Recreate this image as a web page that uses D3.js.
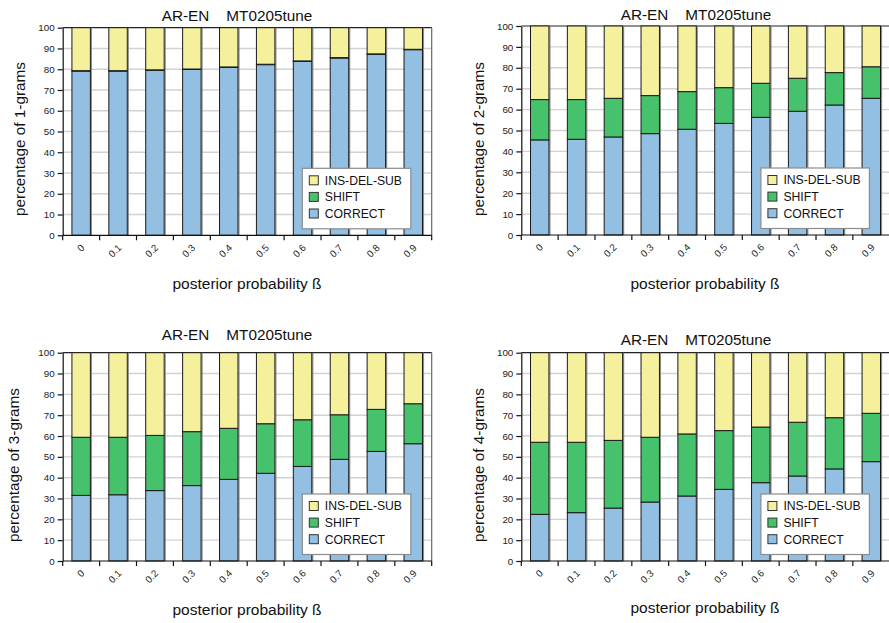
<!DOCTYPE html>
<html>
<head>
<meta charset="utf-8">
<script src="https://cdn.jsdelivr.net/npm/d3@7"></script>
<style>
  html, body { margin: 0; padding: 0; background: #fff; }
  svg { display: block; font-family: "Liberation Sans", Arial, sans-serif; }
</style>
</head>
<body>
<svg id="chart" width="889" height="623"></svg>
<script>
// Posterior probability thresholds (x categories)
const categories = ["0", "0.1", "0.2", "0.3", "0.4", "0.5", "0.6", "0.7", "0.8", "0.9"];
const yTicks = [0, 10, 20, 30, 40, 50, 60, 70, 80, 90, 100];
const seriesNames = ["CORRECT", "SHIFT", "INS-DEL-SUB"];
const legendOrder = ["INS-DEL-SUB", "SHIFT", "CORRECT"];
const titleText = "AR-EN    MT0205tune";
const xAxisTitle = "posterior probability ß";
const ngramLabels = ["percentage of 1-grams", "percentage of 2-grams", "percentage of 3-grams", "percentage of 4-grams"];

// 1-grams
const correct1 = [79.1, 79.1, 79.5, 79.9, 80.9, 82.2, 83.8, 85.4, 87.2, 89.4];
const shift1   = [0.2, 0.2, 0.2, 0.2, 0.2, 0.2, 0.2, 0.2, 0.2, 0.2];
const insDel1  = [20.7, 20.7, 20.3, 19.9, 18.9, 17.6, 16.0, 14.4, 12.6, 10.4];
// 2-grams
const correct2 = [45.5, 45.8, 46.9, 48.5, 50.6, 53.4, 56.3, 59.2, 62.2, 65.4];
const shift2   = [19.3, 19.0, 18.5, 18.2, 18.0, 17.1, 16.3, 15.8, 15.5, 15.1];
const insDel2  = [35.2, 35.2, 34.6, 33.3, 31.4, 29.5, 27.4, 25.0, 22.3, 19.5];
// 3-grams
const correct3 = [31.5, 31.8, 33.8, 36.2, 39.2, 42.1, 45.4, 48.8, 52.6, 56.3];
const shift3   = [27.9, 27.6, 26.5, 25.9, 24.5, 23.8, 22.4, 21.4, 20.2, 19.2];
const insDel3  = [40.6, 40.6, 39.7, 37.9, 36.3, 34.1, 32.2, 29.8, 27.2, 24.5];
// 4-grams
const correct4 = [22.4, 23.2, 25.4, 28.3, 31.2, 34.4, 37.6, 40.8, 44.2, 47.7];
const shift4   = [34.6, 33.8, 32.5, 31.1, 29.8, 28.2, 26.7, 25.8, 24.6, 23.2];
const insDel4  = [43.0, 43.0, 42.1, 40.6, 39.0, 37.4, 35.7, 33.4, 31.2, 29.1];

const colors = { "CORRECT": "#93bfe3", "SHIFT": "#47c26c", "INS-DEL-SUB": "#f4f09b" };

const panelData = [
  [correct1, shift1, insDel1],
  [correct2, shift2, insDel2],
  [correct3, shift3, insDel3],
  [correct4, shift4, insDel4]
];

// Panel placement in the 2x2 grid
const layouts = [
  { left: 62.7, right: 431.7, top: 27.7, bottom: 235.3, titleX: 237, titleY: 21, ylabX: 25, ylabY: 139, xlabX: 247, xlabY: 289 },
  { left: 521.3, right: 889.7, top: 26, bottom: 235, titleX: 696, titleY: 20, ylabX: 484, ylabY: 139, xlabX: 705, xlabY: 289 },
  { left: 62.7, right: 431.7, top: 352.7, bottom: 561, titleX: 237, titleY: 340, ylabX: 19, ylabY: 465, xlabX: 247, xlabY: 615 },
  { left: 521.3, right: 889.7, top: 352.7, bottom: 561, titleX: 696, titleY: 345, ylabX: 484, ylabY: 465, xlabX: 705, xlabY: 613 }
];

const svg = d3.select("#chart");

panelData.forEach((series, pi) => {
  const L = layouts[pi];
  const g = svg.append("g");

  const rows = categories.map((c, i) => ({
    cat: c,
    "CORRECT": series[0][i],
    "SHIFT": series[1][i],
    "INS-DEL-SUB": series[2][i]
  }));
  const stacked = d3.stack().keys(seriesNames)(rows);

  const x = d3.scaleBand().domain(categories).range([L.left, L.right])
    .paddingInner(0.5).paddingOuter(0.25);
  const xEdges = d3.scaleLinear().domain([0, categories.length]).range([L.left, L.right]);
  const y = d3.scaleLinear().domain([0, 100]).range([L.bottom, L.top]);

  // horizontal gridlines
  g.append("g").selectAll("line")
    .data(yTicks.filter(t => t > 0 && t < 100))
    .join("line")
    .attr("x1", L.left).attr("x2", L.right)
    .attr("y1", d => y(d)).attr("y2", d => y(d))
    .attr("stroke", "#d2d2d2").attr("stroke-width", 1.4);

  // plot frame: top and right
  g.append("line").attr("x1", L.left).attr("x2", L.right)
    .attr("y1", y(100)).attr("y2", y(100))
    .attr("stroke", "#222").attr("stroke-width", 1.2);
  g.append("line").attr("x1", L.right).attr("x2", L.right)
    .attr("y1", y(100)).attr("y2", y(0))
    .attr("stroke", "#666").attr("stroke-width", 1.2);

  // stacked bars
  const layer = g.append("g").selectAll("g")
    .data(stacked)
    .join("g")
    .attr("fill", d => colors[d.key]);

  // soft shadow on the right edge of each segment
  layer.selectAll("line.shadow")
    .data(d => d)
    .join("line")
    .attr("class", "shadow")
    .attr("x1", d => x(d.data.cat) + x.bandwidth() + 1)
    .attr("x2", d => x(d.data.cat) + x.bandwidth() + 1)
    .attr("y1", d => y(d[1]))
    .attr("y2", d => y(d[0]))
    .attr("stroke", "#8a8a8a").attr("stroke-width", 1.2);

  layer.selectAll("rect")
    .data(d => d)
    .join("rect")
    .attr("x", d => x(d.data.cat))
    .attr("width", x.bandwidth())
    .attr("y", d => y(d[1]))
    .attr("height", d => y(d[0]) - y(d[1]))
    .attr("stroke", "#1a1a1a").attr("stroke-width", 1);

  // y axis
  const yAxis = g.append("g")
    .attr("transform", `translate(${L.left},0)`)
    .call(d3.axisLeft(y).tickValues(yTicks).tickSize(5).tickPadding(3).tickSizeOuter(0));
  yAxis.select(".domain").attr("stroke", "#111").attr("stroke-width", 1.2);
  yAxis.selectAll(".tick line").attr("stroke", "#111").attr("stroke-width", 1.2);
  yAxis.selectAll(".tick text")
    .attr("font-size", 9.8).attr("fill", "#222")
    .attr("font-family", "'Liberation Sans', Arial, sans-serif");

  // x axis line with ticks at category boundaries
  g.append("line").attr("x1", L.left).attr("x2", L.right)
    .attr("y1", L.bottom).attr("y2", L.bottom)
    .attr("stroke", "#111").attr("stroke-width", 1.2);
  g.append("g").selectAll("line")
    .data(d3.range(categories.length + 1))
    .join("line")
    .attr("x1", d => xEdges(d)).attr("x2", d => xEdges(d))
    .attr("y1", L.bottom).attr("y2", L.bottom + 5)
    .attr("stroke", "#111").attr("stroke-width", 1.2);

  // rotated category labels
  g.append("g").selectAll("text")
    .data(categories)
    .join("text")
    .attr("transform", d => `translate(${x(d) + x.bandwidth() / 2 + 4},${L.bottom + 13}) rotate(-45)`)
    .attr("text-anchor", "end")
    .attr("font-size", 9.8)
    .attr("fill", "#222")
    .text(d => d);

  // title
  g.append("text")
    .attr("x", L.titleX).attr("y", L.titleY)
    .attr("text-anchor", "middle")
    .attr("font-size", 15.3)
    .attr("fill", "#111")
    .style("white-space", "pre")
    .text(titleText);

  // axis titles
  g.append("text")
    .attr("transform", `translate(${L.ylabX},${L.ylabY}) rotate(-90)`)
    .attr("text-anchor", "middle")
    .attr("font-size", 15.3)
    .attr("fill", "#111")
    .text(ngramLabels[pi]);
  g.append("text")
    .attr("x", L.xlabX).attr("y", L.xlabY)
    .attr("text-anchor", "middle")
    .attr("font-size", 15.5)
    .attr("fill", "#111")
    .text(xAxisTitle);

  // legend
  const lg = g.append("g").attr("transform", `translate(${L.left + 239.6},${L.bottom - 67})`);
  lg.append("rect").attr("width", 108.5).attr("height", 60.5)
    .attr("fill", "#fff").attr("stroke", "#8c8c8c").attr("stroke-width", 1.2);
  const item = lg.selectAll("g.item")
    .data(legendOrder)
    .join("g")
    .attr("class", "item")
    .attr("transform", (d, i) => `translate(7,${12 + i * 16.6})`);
  item.append("rect")
    .attr("x", 0).attr("y", -4.5).attr("width", 9).attr("height", 9)
    .attr("fill", d => colors[d]).attr("stroke", "#333").attr("stroke-width", 1);
  item.append("text")
    .attr("x", 15.5).attr("y", 4.3)
    .attr("font-size", 12.2)
    .attr("fill", "#111")
    .text(d => d);
});
</script>
</body>
</html>
